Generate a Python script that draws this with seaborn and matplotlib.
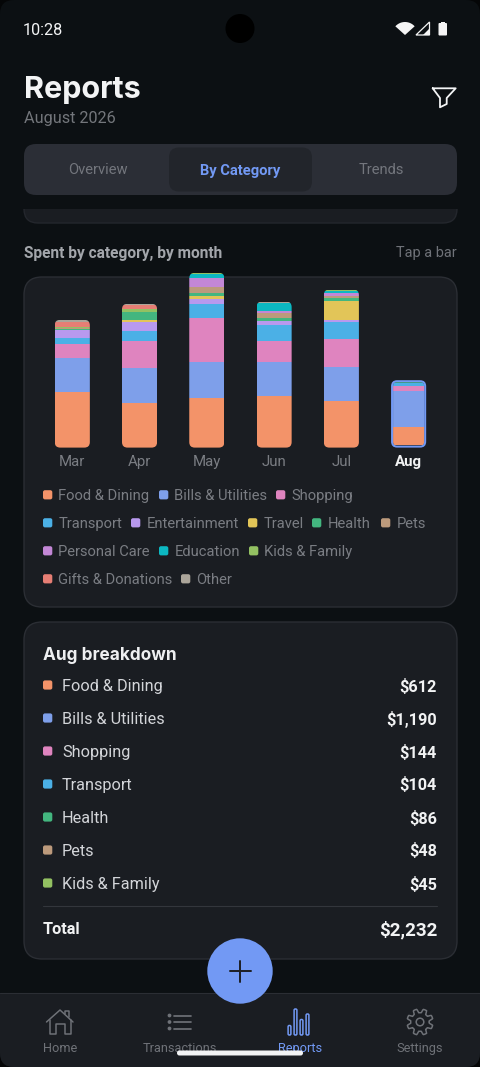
import numpy as np
import matplotlib
matplotlib.use("Agg")
import matplotlib.pyplot as plt
import seaborn as sns
from matplotlib.patches import FancyBboxPatch, Circle, Polygon, Rectangle
from matplotlib.transforms import IdentityTransform

# data
months = ['Mar', 'Apr', 'May', 'Jun', 'Jul', 'Aug']
categories = ['Food & Dining', 'Bills & Utilities', 'Shopping', 'Transport', 'Entertainment',
              'Travel', 'Health', 'Pets', 'Personal Care', 'Education', 'Kids & Family',
              'Gifts & Donations', 'Other']
food = [1833, 1477, 1632, 1720, 1543, 612]
bills = [1155, 1177, 1199, 1121, 1132, 1190]
shopping = [466, 900, 1465, 710, 921, 144]
transport = [200, 333, 466, 522, 588, 104]
entertainment = [244, 267, 155, 122, 67, 0]
travel = [0, 78, 100, 0, 610, 0]
health = [45, 278, 111, 111, 111, 86]
pets = [35, 0, 189, 166, 55, 48]
personal = [0, 0, 322, 78, 100, 0]
education = [0, 0, 120, 244, 66, 0]
kids = [40, 100, 45, 0, 55, 45]
gifts = [155, 110, 0, 0, 0, 0]
other = [70, 55, 0, 55, 0, 0]
series = [food, bills, shopping, transport, entertainment, travel, health, pets,
          personal, education, kids, gifts, other]
colors = ['#F39369', '#7E9FEA', '#DF84BF', '#4BB0E6', '#B899EE', '#E2C558', '#43B67F',
          '#BC9A7C', '#C387D6', '#0CB8C2', '#93C162', '#E67E74', '#ABA59A']
aug_total = 2232

BG = '#0C1013'
CARD = '#1A1D22'
EDGE = '#2B2E34'
BLUE = '#7299F4'
GREY = '#7A7D83'

sns.set_theme(style='dark')
plt.rcParams['font.family'] = ['Roboto', 'DejaVu Sans']
plt.rcParams['patch.force_edgecolor'] = False

W, H = 480, 1067
fig = plt.figure(figsize=(4.8, 10.67), dpi=100, facecolor='#050607')

# whole screen in pixels for the app chrome
ui = fig.add_axes([0, 0, 1, 1])
ui.set_xlim(0, W)
ui.set_ylim(H, 0)
ui.axis('off')


def px(size):
    return size * 0.72


def rbox(x0, y0, x1, y1, r, fc, ec='none', lw=0, z=1):
    p = FancyBboxPatch((x0 + r, y0 + r), x1 - x0 - 2 * r, y1 - y0 - 2 * r,
                       boxstyle=f'round,pad={r},rounding_size={r}', fc=fc, ec=ec, lw=lw, zorder=z)
    ui.add_patch(p)
    return p


def label(x, y, s, size, color, weight='normal', ha='left', family=None, z=5):
    ui.text(x, y, s, fontsize=px(size), color=color, weight=weight, ha=ha, va='center_baseline',
            family=family or ['Roboto', 'DejaVu Sans'], zorder=z)


def stroke(xs, ys, color, lw=1.5, z=5):
    ui.plot(xs, ys, color=color, lw=lw * 0.72, solid_capstyle='round', solid_joinstyle='round', zorder=z)


screen = rbox(0, 0, W, H, 14, BG, z=0)

# status bar
label(23, 29, '10:28', 16.3, '#F2F3F4')
ui.add_patch(Circle((240, 28.5), 14.5, fc='#000000', zorder=2))
ang = np.radians(np.linspace(222, 318, 20))
ui.add_patch(Polygon(np.r_[[[405, 35]], np.c_[405 + 13 * np.cos(ang), 35 + 13 * np.sin(ang)]],
                     fc='#F5F5F5', zorder=3))
ui.add_patch(Polygon([[416, 35], [429.5, 22], [429.5, 35]], fc='none', ec='#F5F5F5', lw=0.9, zorder=3))
ui.add_patch(Polygon([[423, 35], [429.5, 28.5], [429.5, 35]], fc='#F5F5F5', zorder=3))
rbox(438.5, 23, 447, 35.5, 1, '#F5F5F5', z=3)
ui.add_patch(Rectangle((441, 21.5), 3.5, 2, fc='#F5F5F5', zorder=3))

# header
label(24, 87, 'Reports', 30.5, '#F3F4F5', weight='bold', family=['Inter', 'DejaVu Sans'])
label(24, 117.5, 'August 2026', 16.2, '#73767B')
stroke([432.7, 455.7, 446.7, 446.7, 440, 440, 432.7], [88.3, 88.3, 98, 104, 107.3, 98, 88.3], '#F3F4F5', lw=1.8)

# tabs
rbox(24, 144, 457, 195, 12, '#2B2E36', z=1)
rbox(169, 147.5, 312, 191.5, 10, '#22252B', z=2)
label(97.5, 169, 'Overview', 14.8, '#73767D', ha='center')
label(240, 169, 'By Category', 14.8, BLUE, weight='bold', ha='center')
label(381.5, 169, 'Trends', 14.8, '#73767D', ha='center')

# bit of the card scrolled under the tabs
sliver = rbox(24, 190, 457, 223, 14, CARD, ec='#24272D', lw=1, z=1)
sliver.set_clip_path(Rectangle((0, 209), W, 20, transform=ui.transData))

label(24, 252, 'Spent by category, by month', 15.5, '#A3A6AB', weight='bold')
label(457, 252, 'Tap a bar', 14.5, '#6F7278', ha='right')

# chart card
rbox(24, 277, 457, 607, 18, CARD, ec=EDGE, lw=1, z=1)

# stacked bars, axes spans one category slot either side of the bar centres
slot = 67.1
left, right = 72.2 - slot / 2, 408.7 + slot / 2
base, top = 447.6, 267.0
scale = 33.2  # dollars per pixel
ax = fig.add_axes([left / W, 1 - base / H, (right - left) / W, (base - top) / H], facecolor='none')
ax.patch.set_alpha(0)
# selected bar sits inside its outline, so it starts a little higher
start = np.array([0, 0, 0, 0, 0, 2.5 * scale])
bottom = start.copy()
n_layers = len(series)
for vals, c in zip(series, colors):
    sns.barplot(x=months, y=vals, order=months, color=c, saturation=1, width=0.522, bottom=bottom,
                errorbar=None, linewidth=0, ax=ax)
    bottom = bottom + np.array(vals)
ax.set_xlim(-0.5, len(months) - 0.5)
ax.set_ylim(0, (base - top) * scale)
ax.grid(False)
sns.despine(ax=ax, left=True, bottom=True)
ax.set_yticks([])
ax.set_xlabel('')
ax.set_ylabel('')
ax.tick_params(axis='x', length=0, pad=5.5, labelsize=px(15), labelcolor=GREY)
ticks = ax.get_xticklabels()
ticks[-1].set_color('#F2F3F4')
ticks[-1].set_fontweight('bold')

# rounded ends on each whole stack
for i, m in enumerate(months):
    x0 = i - 0.261
    x1 = i + 0.261
    selected = m == 'Aug'
    stack_top = 67.4 * scale if selected else bottom[i]
    (dx0, dy0), (dx1, dy1) = ax.transData.transform([(x0, 0), (x1, stack_top)])
    inset = 2.0 if selected else 0.0
    r = 5.5 - inset
    clip = FancyBboxPatch((dx0 + inset + r, dy0 + inset + r), dx1 - dx0 - 2 * (inset + r), dy1 - dy0 - 2 * (inset + r),
                          boxstyle=f'round,pad={r},rounding_size={r}', transform=IdentityTransform())
    for layer in range(n_layers):
        ax.patches[layer * len(months) + i].set_clip_path(clip)
    if selected:
        outline = FancyBboxPatch((dx0 + 6, dy0 + 6), dx1 - dx0 - 12, dy1 - dy0 - 12,
                                 boxstyle='round,pad=5,rounding_size=5', fc='none', ec=BLUE, lw=1.44,
                                 transform=IdentityTransform(), zorder=6, clip_on=False)
        ax.add_artist(outline)

# legend rows
legend_rows = [
    (494.7, [0, 1, 2], [43, 159, 276]),
    (522.7, [3, 4, 5, 6, 7], [43, 131, 248, 312, 381]),
    (550.7, [8, 9, 10], [43, 159, 249]),
    (578.7, [11, 12], [43, 181]),
]
for y, idx, xs in legend_rows:
    for k, x in zip(idx, xs):
        rbox(x, y - 4.5, x + 9.3, y + 4.7, 2, colors[k], z=3)
        label(x + 15.3, y, categories[k], 14.7, GREY)

# breakdown card
rbox(24, 622, 457, 959, 18, CARD, ec=EDGE, lw=1, z=1)
label(43, 653, 'Aug breakdown', 17.2, '#EEEFF1', weight='bold', family=['Inter', 'DejaVu Sans'])
row_y = 685
for name, vals, c in zip(categories, series, colors):
    if vals[-1] == 0:
        continue
    rbox(43, row_y - 4.6, 52.3, row_y + 4.6, 2, c, z=3)
    label(62, row_y, name, 16.2, '#D3D5D9')
    label(437, row_y, f'${vals[-1]:,}', 16.3, '#F2F3F4', weight='bold', ha='right')
    row_y += 33
ui.plot([43, 437], [906, 906], color='#33363C', lw=0.8, zorder=3)
label(43, 928, 'Total', 16.3, '#F2F3F4', weight='bold')
label(437, 928.5, f'${aug_total:,}', 18.8, '#F2F3F4', weight='bold', ha='right')

# bottom nav
nav = Rectangle((0, 993), W, 74, fc=CARD, ec='none', zorder=7)
ui.add_patch(nav)
nav.set_clip_path(screen)
ui.plot([0, W], [992.5, 992.5], color=EDGE, lw=0.8, zorder=8)
NAV = '#6F7278'
label(60, 1047, 'Home', 12.8, NAV, ha='center', z=9)
label(180, 1047, 'Transactions', 12.8, NAV, ha='center', z=9)
label(300, 1047, 'Reports', 12.8, BLUE, ha='center', z=9)
label(420, 1047, 'Settings', 12.8, NAV, ha='center', z=9)
# home icon
stroke([46.5, 60, 73], [1022, 1010, 1022], NAV, z=9)
stroke([49.5, 49.5, 56, 56, 64.5, 64.5, 71, 71], [1019.5, 1034, 1034, 1024, 1024, 1034, 1034, 1019.5], NAV, z=9)
stroke([65, 65, 68.5, 68.5], [1014, 1011, 1011, 1017], NAV, z=9)
# list icon
for y in [1015.5, 1022, 1028.5]:
    ui.add_patch(Circle((169.5, y), 1.9, fc=NAV, zorder=9))
    stroke([174, 191], [y, y], NAV, lw=1.7, z=9)
# reports icon
for x, h in [(289.5, 9.5), (295.5, 26), (301.5, 15.5), (307.5, 21)]:
    ui.add_patch(FancyBboxPatch((x - 1.4, 1035 - h), 2.8, h, boxstyle='round,pad=0,rounding_size=1.2',
                                fc='none', ec=BLUE, lw=1.1, zorder=9))
# gear icon
t = np.linspace(0, 2 * np.pi, 200)
rad = 11.2 + 1.9 * np.clip(2.2 * np.cos(8 * (t + np.pi / 8)), -1, 1)
stroke(420 + rad * np.cos(t), 1022 + rad * np.sin(t), NAV, z=9)
ui.add_patch(Circle((420, 1022), 3.8, fc='none', ec=NAV, lw=1.1, zorder=9))

# action button and gesture bar
ui.add_patch(Circle((240, 971), 32.7, fc=BLUE, zorder=10))
stroke([229.5, 250.5], [971, 971], '#1E2128', lw=2, z=11)
stroke([240, 240], [960.5, 981.5], '#1E2128', lw=2, z=11)
rbox(177, 1050.5, 303, 1055.5, 2.4, '#F2F3F4', z=12)

fig.savefig('out.png', dpi=100, facecolor=fig.get_facecolor())
